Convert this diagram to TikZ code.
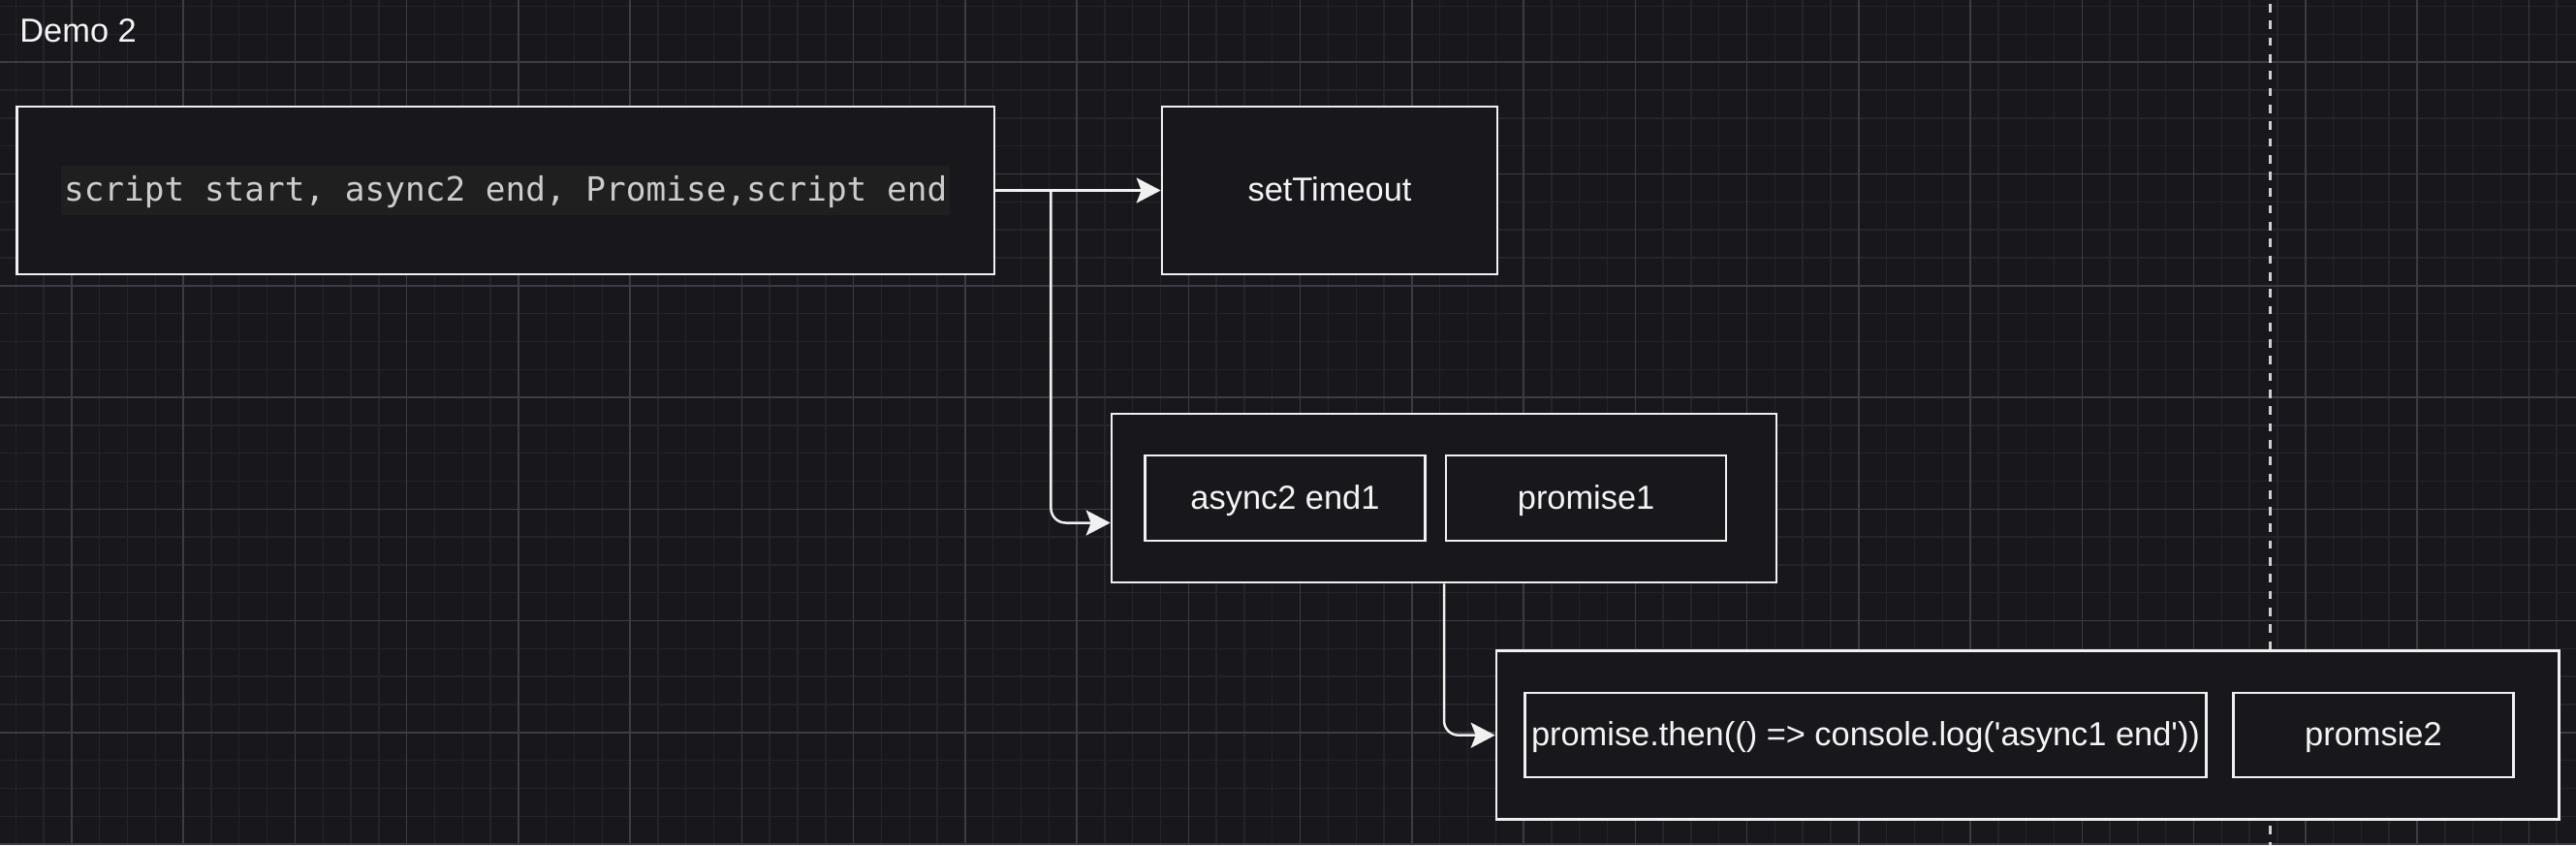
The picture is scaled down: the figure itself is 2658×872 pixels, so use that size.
\documentclass[tikz,border=0pt]{standalone}
\usepackage{fontspec}
\setmainfont{Liberation Sans}
\setmonofont{DejaVu Sans Mono}
\usetikzlibrary{arrows.meta}

\definecolor{canvas}{HTML}{18171C}
\definecolor{minorline}{HTML}{25242A}
\definecolor{majorline}{HTML}{3D3C42}
\definecolor{edge}{HTML}{F0F0F0}
\definecolor{label}{HTML}{F4F4F4}
\definecolor{codebg}{HTML}{1F1F1F}
\definecolor{codefg}{HTML}{CCCCCC}
\definecolor{guideline}{HTML}{CFCFCF}

\newcommand{\labelfont}{\fontsize{17.2}{20}\selectfont}

\tikzset{
  box/.style={draw=edge, fill=canvas, line width=1.35pt, inner sep=0pt,
    text=label, font=\labelfont, text height=12.4pt, text depth=1pt},
  codetext/.style={fill=codebg, text=codefg, inner xsep=1.5pt, inner ysep=0pt,
    minimum height=25.5pt, text height=14pt, text depth=3.5pt,
    font=\ttfamily\labelfont},
  link/.style={draw=edge, line width=1.25pt, rounded corners=7.5pt,
    -{Stealth[length=12.5pt,width=13pt,inset=2.5pt]}},
  guide/.style={draw=guideline, line width=1.5pt,
    dash pattern=on 4.35pt off 4.3pt, dash phase=6.6pt},
}

\begin{document}
\begin{tikzpicture}[x=0.5pt,y=-0.5pt]
  \fill[canvas] (0,0) rectangle (2658,872);
  \useasboundingbox (0,0) rectangle (2658,872);
  % background grid
  \foreach \x in {16.3,45.11,...,2658}{
    \draw[minorline, line width=0.7pt] (\x,0) -- (\x,872);
  }
  \foreach \y in {6.7,35.51,...,872}{
    \draw[minorline, line width=0.7pt] (0,\y) -- (2658,\y);
  }
  \foreach \x in {73.9,189.15,...,2658}{
    \draw[majorline, line width=0.8pt] (\x,0) -- (\x,872);
  }
  \foreach \y in {64.3,179.55,...,872}{
    \draw[majorline, line width=0.8pt] (0,\y) -- (2658,\y);
  }
  \coordinate (guidetop) at (2342.3,0);
  \coordinate (guidebot) at (2342.3,872);
  \draw[guide] (guidetop) -- (guidebot);

  \node[anchor=base west, inner sep=0pt, text=label, font=\labelfont] (title)
    at (20,44) {Demo 2};

  % sync part
  \node[box, minimum width=504.25pt, minimum height=86.5pt] (main)
    at (521.7,196.5) {};
  \node[codetext] (code) at (main.center)
    {script start, async2 end, Promise,script end};
  \node[box, minimum width=173pt, minimum height=86.5pt] (timer)
    at (1372,196.5) {setTimeout};

  % micro task queues
  \node[box, minimum width=343pt, minimum height=87pt] (queue1)
    at (1490,514) {};
  \node[box, minimum width=548.15pt, minimum height=87pt] (queue2)
    at (2092.2,758.7) {};
  \def \Tasks{
    async2/1326/513.9/144.5/44/{async2 end1},
    promise1/1636.6/513.9/144.5/44/{promise1},
    then/1925/758.5/351.7/43.5/{promise.then(() => console.log(\textquotesingle async1 end\textquotesingle))},
    promise2/2448.9/758.5/144.5/43.5/{promsie2}}
  \foreach \id / \x / \y / \w / \h / \txt in \Tasks{
    \node[box, minimum width=\w pt, minimum height=\h pt] (\id) at (\x,\y) {\txt};
  }

  % connectors
  \coordinate (fork) at (1084.4,196.5);
  \draw[link] (main.east) -- (timer.west);
  \draw[link] (fork) |- ([yshift=-12.75pt]queue1.west);
  \draw[link] (queue1.south) |- (queue2.west);
\end{tikzpicture}
\end{document}
